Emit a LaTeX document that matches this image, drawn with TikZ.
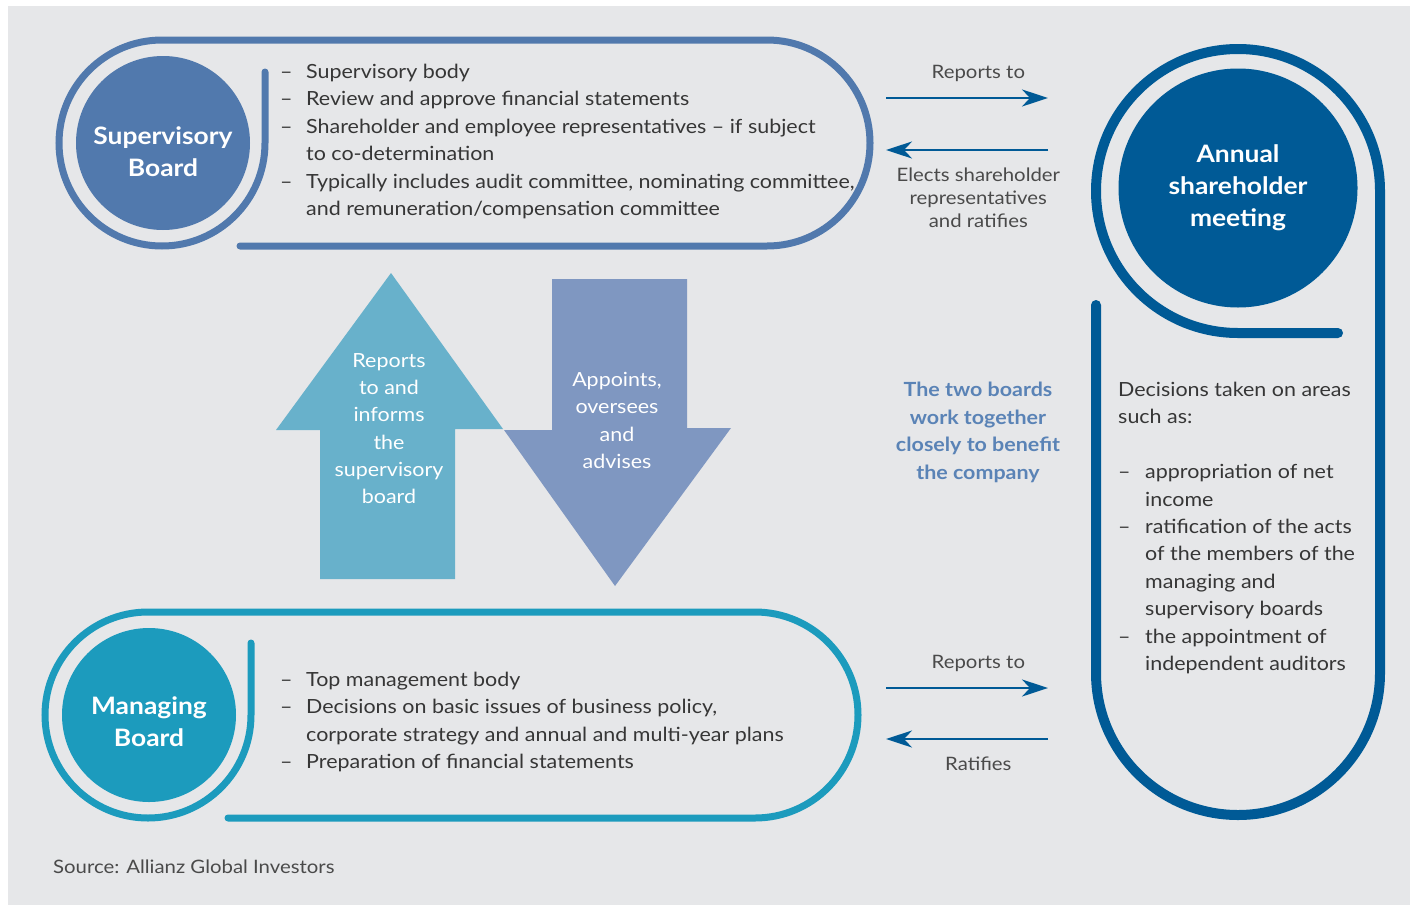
\documentclass[tikz,border=0pt]{standalone}
\usepackage{fontspec}
\setmainfont{Lato}[FakeStretch=1.10]
\usetikzlibrary{arrows.meta, positioning}

\definecolor{sbblue}{HTML}{5179AD}
\definecolor{mbteal}{HTML}{1C9BBD}
\definecolor{agmblue}{HTML}{005A96}
\definecolor{upfill}{HTML}{68B1CB}
\definecolor{downfill}{HTML}{7F97C1}
\definecolor{panelgray}{HTML}{E6E7E9}
\definecolor{bodygray}{HTML}{363636}
\definecolor{notegray}{HTML}{4A4A4A}
\definecolor{jointblue}{HTML}{5A83B6}

\newcommand{\dashitem}{\makebox[26pt][l]{--}}
\newcommand{\hangline}{\hspace*{26pt}}
\newcommand{\rdashitem}{\makebox[27pt][l]{--}}
\newcommand{\rhangline}{\hspace*{27pt}}

\begin{document}
\begin{tikzpicture}[
    x=1pt, y=1pt,
    disc/.style={circle, inner sep=0pt},
    boardtitle/.style={inner sep=0pt, align=center, text=white, font=\fontsize{24}{32}\selectfont\bfseries},
    frame/.style={line width=7pt, line cap=round},
    listtext/.style={inner sep=0pt, align=left, text=bodygray, font=\fontsize{19.5}{27.4}\selectfont},
    note/.style={inner sep=0pt, align=center, text=notegray, font=\fontsize{18.5}{23}\selectfont},
    blocktext/.style={inner sep=0pt, align=center, text=white, font=\fontsize{19.5}{27.3}\selectfont},
    flow/.style={agmblue, line width=2.5pt, -{Stealth[length=26pt, width=17pt, inset=8pt]}}
]
\useasboundingbox (0,0) rectangle (1415,-905);
\fill[white] (0,0) rectangle (1415,-905);
\fill[panelgray] (8,-6) rectangle (1410,-905);

% supervisory board
\draw[frame, sbblue] (265,-72) -- (265,-143) arc[start angle=0, end angle=-270, radius=103]
    -- (767,-40) arc[start angle=90, end angle=-90, radius=103] -- (240,-246);
\node[disc, fill=sbblue, minimum size=174pt] (sb) at (163,-143) {};
\node[boardtitle] (sbtitle) at (163,-151.5) {Supervisory\\Board};
\node[listtext, anchor=north west] (sbduties) at (280,-64) {%
    \dashitem Supervisory body\\
    \dashitem Review and approve financial statements\\
    \dashitem Shareholder and employee representatives -- if subject\\
    \hangline to co-determination\\
    \dashitem Typically includes audit committee, nominating committee,\\
    \hangline and remuneration/compensation committee};

% managing board
\draw[frame, mbteal] (251,-643) -- (251,-715) arc[start angle=0, end angle=-270, radius=103]
    -- (755,-612) arc[start angle=90, end angle=-90, radius=103] -- (228,-818);
\node[disc, fill=mbteal, minimum size=174pt] (mb) at (149,-715) {};
\node[boardtitle] (mbtitle) at (149,-722) {Managing\\Board};
\node[listtext, anchor=north west] (mbduties) at (280,-672) {%
    \dashitem Top management body\\
    \dashitem Decisions on basic issues of business policy,\\
    \hangline corporate strategy and annual and multi-year plans\\
    \dashitem Preparation of financial statements};

% annual shareholder meeting
\draw[frame, agmblue, line width=10pt] (1096,-305) -- (1096,-673) arc[start angle=180, end angle=360, radius=142]
    -- (1380,-191) arc[start angle=0, end angle=270, radius=142] -- (1338,-333);
\node[disc, fill=agmblue, minimum size=239pt] (agm) at (1238,-188) {};
\node[boardtitle] (agmtitle) at (1238,-188) {Annual\\shareholder\\meeting};
\node[listtext, anchor=north west] (agmduties) at (1118,-382) {%
    Decisions taken on areas\\
    such as:\\[27.4pt]
    \rdashitem appropriation of net\\
    \rhangline income\\
    \rdashitem ratification of the acts\\
    \rhangline of the members of the\\
    \rhangline managing and\\
    \rhangline supervisory boards\\
    \rdashitem the appointment of\\
    \rhangline independent auditors};

% block arrows between the boards
\fill[upfill] (391,-273) -- (503,-429) -- (455,-429) -- (455,-579) -- (320,-579)
    -- (320,-430) -- (276,-430) -- cycle;
\fill[downfill] (552,-279) -- (687,-279) -- (687,-428) -- (731,-428) -- (615,-586)
    -- (504,-430) -- (552,-430) -- cycle;
\node[blocktext, anchor=north] (upnote) at (389,-353) {Reports\\to and\\informs\\the\\supervisory\\board};
\node[blocktext, anchor=north] (downnote) at (617,-372) {Appoints,\\oversees\\and\\advises};

\node[note, anchor=north, text=jointblue, font=\fontsize{19.5}{27.6}\selectfont\bfseries] (joint) at (978,-382)
    {The two boards\\work together\\closely to benefit\\the company};

% reporting lines
\coordinate (sbright) at (886,-98);
\coordinate (agmleft) at (1048,-98);
\coordinate (agmback) at (1048,-150);
\coordinate (sbback) at (886,-150);
\coordinate (mbright) at (886,-688);
\coordinate (agmlow) at (1048,-688);
\coordinate (agmlowback) at (1048,-739);
\coordinate (mbback) at (886,-739);

\draw[flow] (sbright) -- (agmleft) node[note, pos=0.57, above=15pt] {Reports to};
\draw[flow] (agmback) -- (sbback) node[note, pos=0.43, below=17pt] {Elects shareholder\\representatives\\and ratifies};
\draw[flow] (mbright) -- (agmlow) node[note, pos=0.57, above=15pt] {Reports to};
\draw[flow] (agmlowback) -- (mbback) node[note, pos=0.43, below=17pt] {Ratifies};

\node[note, anchor=base west] (source) at (53,-873) {Source: Allianz Global Investors};
\end{tikzpicture}
\end{document}
